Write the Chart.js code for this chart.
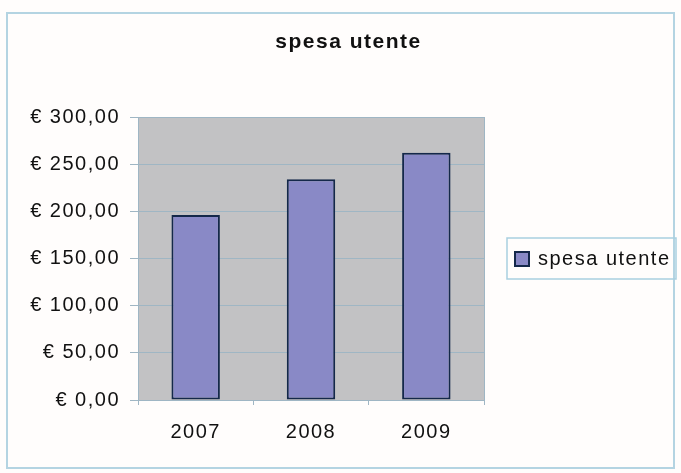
<!DOCTYPE html>
<html>
<head>
<meta charset="utf-8">
<script src="https://cdn.jsdelivr.net/npm/chart.js@4/dist/chart.umd.min.js"></script>
<style>
  html, body { margin: 0; padding: 0; background: #fffdfc; }
  .frame { position: absolute; left: 6px; top: 12px; width: 669px; height: 457px; border: 2px solid #b4d4e2; box-sizing: border-box; }
  .wrap { position: absolute; left: 0; top: 0; width: 681px; height: 473px; }
</style>
</head>
<body>
<div class="frame"></div>
<div class="wrap"><canvas id="c"></canvas></div>
<script>
const years = ['2007', '2008', '2009'];
const spesaUtente = [196, 234, 262];
const yTicks = [0, 50, 100, 150, 200, 250, 300];
const titleText = 'spesa utente';

const FONT = 'Liberation Sans, Arial, sans-serif';
const fmtEuro = v => '€ ' + v.toFixed(2).replace('.', ',');

// grey plot area, its border, the title over the whole frame and the boxed legend
const plotBg = {
  id: 'plotBg',
  beforeUpdate(chart) {
    chart.ctx.letterSpacing = '1.5px';
  },
  beforeDraw(chart) {
    const { ctx, chartArea: a } = chart;
    ctx.save();
    ctx.fillStyle = '#c2c2c4';
    ctx.fillRect(a.left, a.top, a.right - a.left, a.bottom - a.top);
    ctx.restore();
  },
  afterDraw(chart) {
    const { ctx, chartArea: a, width } = chart;
    const ds = chart.data.datasets[0];
    ctx.save();
    ctx.strokeStyle = '#9fb6c4';
    ctx.lineWidth = 1;
    ctx.strokeRect(a.left + 0.5, a.top + 0.5, a.right - a.left, a.bottom - a.top);

    // title, centred on the frame
    ctx.letterSpacing = '1.5px';
    ctx.fillStyle = '#111';
    ctx.font = 'bold 21px ' + FONT;
    ctx.textBaseline = 'middle';
    ctx.textAlign = 'center';
    ctx.fillText(titleText, width / 2 + 8, 42);

    // legend
    const lx = a.right + 23, ly = 238, lw = 169, lh = 41;
    ctx.strokeStyle = '#a9cfe0';
    ctx.lineWidth = 1.5;
    ctx.strokeRect(lx, ly, lw, lh);
    ctx.fillStyle = ds.backgroundColor;
    ctx.fillRect(lx + 8, ly + 14, 14, 14);
    ctx.strokeStyle = ds.borderColor;
    ctx.lineWidth = 2;
    ctx.strokeRect(lx + 8, ly + 14, 14, 14);
    ctx.font = '20px ' + FONT;
    ctx.textAlign = 'left';
    ctx.fillStyle = '#111';
    ctx.fillText(ds.label, lx + 31, ly + 21);
    ctx.restore();
  }
};

new Chart(document.getElementById('c'), {
  type: 'bar',
  data: {
    labels: years,
    datasets: [{
      label: 'spesa utente',
      data: spesaUtente,
      backgroundColor: '#8989c6',
      borderColor: '#14284a',
      borderWidth: 2,
      borderSkipped: false,
      categoryPercentage: 1,
      barPercentage: 0.42,
    }]
  },
  options: {
    responsive: true,
    maintainAspectRatio: false,
    animation: false,
    layout: {
      padding: { left: 20, right: 197, top: 117, bottom: 10 }
    },
    plugins: {
      title: { display: false },
      legend: { display: false },
      tooltip: { enabled: false }
    },
    scales: {
      x: {
        afterFit(axis) { axis.height = 63; },
        grid: {
          offset: true,
          drawOnChartArea: false,
          color: '#9fb6c4',
          tickLength: 5,
        },
        border: { color: '#8fb0c4', width: 1 },
        ticks: {
          color: '#111',
          padding: 15,
          font: { family: FONT, size: 20 },
        }
      },
      y: {
        min: 0,
        max: 300,
        afterFit(axis) { axis.width = 118; },
        afterBuildTicks(axis) {
          axis.ticks = yTicks.map(v => ({ value: v }));
        },
        grid: {
          color: '#9fb6c4',
          tickLength: 8,
        },
        border: { color: '#8fb0c4', width: 1 },
        ticks: {
          color: '#111',
          padding: 10,
          font: { family: FONT, size: 20 },
          callback: v => fmtEuro(v),
        }
      }
    }
  },
  plugins: [plotBg]
});
</script>
</body>
</html>
